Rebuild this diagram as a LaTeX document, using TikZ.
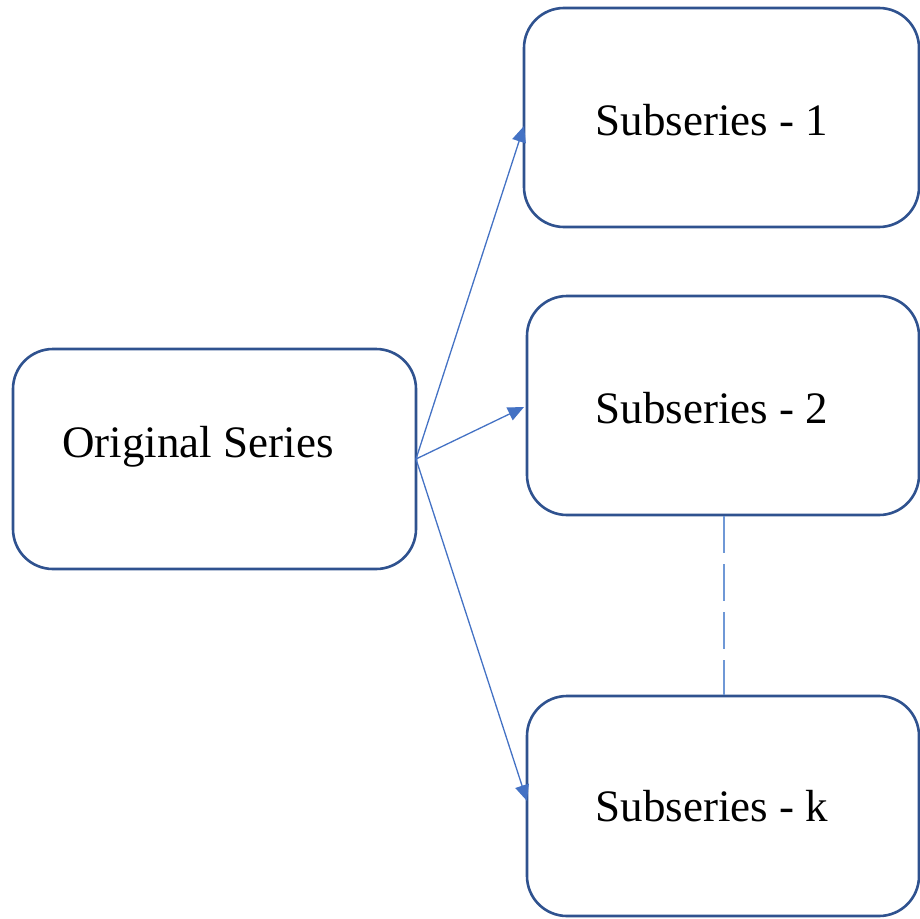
\documentclass[tikz,border=0pt]{standalone}
\usepackage{fontspec}
\setmainfont{Liberation Serif}
\usetikzlibrary{arrows.meta}
\definecolor{boxline}{HTML}{2F528F}
\definecolor{arrowline}{HTML}{4472C4}
\definecolor{dashline}{HTML}{6F98D6}
\begin{document}
\begin{tikzpicture}[x=1pt,y=-1pt,
  seriesbox/.style={draw=boxline,line width=2.6pt,rounded corners=40pt,fill=white},
  label/.style={font=\fontsize{45}{49}\selectfont,inner sep=0pt},
  feed/.style={draw=arrowline,line width=1.3pt,-{Triangle[length=16pt,width=14pt]}},
  link/.style={draw=dashline,line width=1.8pt,dash pattern=on 37pt off 11pt}]
\path[use as bounding box] (0,0) rectangle (920,918);
\begin{scope}
\clip (0,0) rectangle (920,918);
% boxes
\draw[seriesbox] (13,349) rectangle (416,569);
\draw[seriesbox] (524,8) rectangle (919,227);
\draw[seriesbox] (527,296) rectangle (919,515);
\draw[seriesbox] (527,696) rectangle (919,916);
\end{scope}
% anchors on the box borders
\coordinate (src) at (416,459);
\coordinate (in1) at (524,126);
\coordinate (in2) at (524,407);
\coordinate (ink) at (527,801);
\coordinate (s2bot) at (724,516);
\coordinate (sktop) at (724,695);
% texts
\node[label] (orig) at (198,447) {Original Series};
\node[label] (sub1) at (712,120) {Subseries - 1};
\node[label] (sub2) at (712,408) {Subseries - 2};
\node[label] (subk) at (712,806) {Subseries - k};
% connectors
\draw[feed] (src) -- (in1);
\draw[feed] (src) -- (in2);
\draw[feed] (src) -- (ink);
\draw[link] (s2bot) -- (sktop);
\end{tikzpicture}
\end{document}
